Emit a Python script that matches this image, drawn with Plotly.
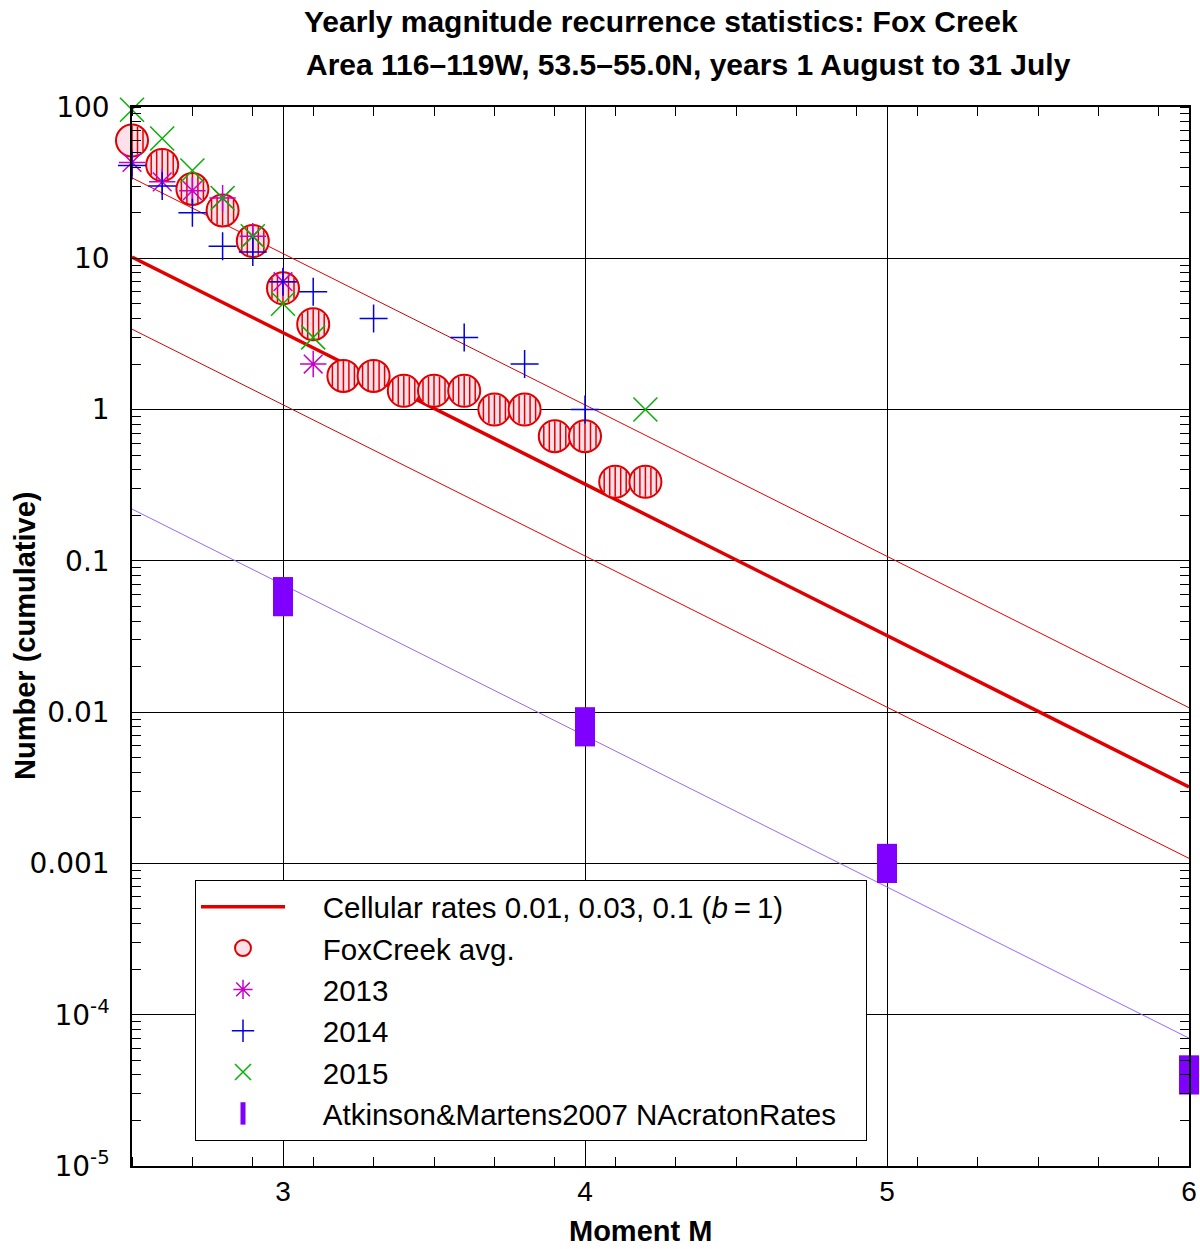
import plotly.graph_objects as go

# ---------------- data ----------------
mag_avg = [2.5, 2.6, 2.7, 2.8, 2.9, 3.0, 3.1, 3.2, 3.3, 3.4, 3.5, 3.6, 3.7, 3.8, 3.9, 4.0, 4.1, 4.2]
n_avg = [60, 41.3, 28.7, 20.7, 13, 6.33, 3.67, 1.67, 1.67, 1.33, 1.33, 1.33, 1.0, 1.0, 0.667, 0.667, 0.333, 0.333]

mag_2013 = [2.5, 2.6, 2.7, 2.8, 2.9, 3.0, 3.1]
n_2013 = [43, 32, 28, 25, 14, 7, 2]

mag_2014 = [2.5, 2.6, 2.7, 2.8, 2.9, 3.0, 3.1, 3.3, 3.6, 3.8, 4.0]
n_2014 = [41, 30, 20, 12, 11, 7, 6, 4, 3, 2, 1]

mag_2015 = [2.5, 2.6, 2.7, 2.8, 2.9, 3.0, 3.1, 4.2]
n_2015 = [96, 62, 38, 25, 14, 5, 3, 1]

mag_am = [3, 4, 5, 6]
n_am = [0.058, 0.008, 0.001, 0.00004]

line_m = [2.5, 6.0]
cell_01 = [34, 0.0107]     # rate 0.1
cell_003 = [10.2, 0.0032]  # rate 0.03
cell_001 = [3.4, 0.00108]  # rate 0.01
am_line = [0.22, 0.00007]

ytick_vals = [1e-5, 1e-4, 1e-3, 1e-2, 1e-1, 1, 10, 100]
ytick_text = ["10<sup>-5</sup>", "10<sup>-4</sup>", "0.001", "0.01", "0.1", "1", "10", "100"]
xtick_vals = [3, 4, 5, 6]

# ---------------- styling ----------------
RED = "#e00000"
PINK = "#fde0ea"
MAG = "#c800c8"
BLUE = "#0000e0"
GREEN = "#00b400"
PURPLE = "#7f00ff"
PURPLE_LINE = "#9966ff"

W, H = 1200, 1249
ML, MR, MT, MB = 132, 11, 107, 83
XR = [2.5, 6.0]
PW = W - ML - MR
PH = H - MT - MB
px_per_unit = PW / (XR[1] - XR[0])
SP = "\u00a0" * 4
TRAIL = "\u00a0" * 3


def px_x(p):
    return (p - ML) / PW


def px_y(p):
    return (H - MB - p) / PH


fig = go.Figure()

# cellular rate lines
fig.add_trace(go.Scatter(x=line_m, y=cell_01, mode="lines", line=dict(color=RED, width=1),
                         showlegend=False, hoverinfo="skip"))
fig.add_trace(go.Scatter(x=line_m, y=cell_001, mode="lines", line=dict(color=RED, width=1),
                         showlegend=False, hoverinfo="skip"))
fig.add_trace(go.Scatter(x=line_m, y=cell_003, mode="lines", line=dict(color=RED, width=3.5),
                         name=SP + "Cellular rates 0.01, 0.03, 0.1 (<i>b</i>\u2009=\u20091)",
                         legendrank=1))

# Atkinson & Martens line + markers
fig.add_trace(go.Scatter(x=line_m, y=am_line, mode="lines", line=dict(color=PURPLE_LINE, width=1),
                         showlegend=False, hoverinfo="skip"))
fig.add_trace(go.Scatter(x=mag_am, y=n_am, mode="markers", cliponaxis=False,
                         marker=dict(symbol="line-ns", size=28, color=PURPLE,
                                     line=dict(color=PURPLE, width=20)),
                         name=SP + "Atkinson&Martens2007 NAcratonRates" + TRAIL, legendrank=6))

# FoxCreek average: hatched circles
fig.add_trace(go.Scatter(x=mag_avg, y=n_avg, mode="markers", cliponaxis=False,
                         marker=dict(symbol="circle", size=32, color=PINK,
                                     line=dict(color=RED, width=2)),
                         name=SP + "FoxCreek avg.", legendrank=2))
hatch_off = [-11, -5.5, 0, 5.5, 11]
hatch_half = [10.5, 14, 15, 14, 10.5]
for off, half in zip(hatch_off, hatch_half):
    fig.add_trace(go.Scatter(x=[m + off / px_per_unit for m in mag_avg], y=n_avg, mode="markers",
                             cliponaxis=True, showlegend=False, hoverinfo="skip",
                             marker=dict(symbol="line-ns", size=half / 0.7, color=RED,
                                         line=dict(color=RED, width=1.5))))

# yearly data
fig.add_trace(go.Scatter(x=mag_2013, y=n_2013, mode="markers", cliponaxis=False,
                         marker=dict(symbol="asterisk-open", size=22, color=MAG,
                                     line=dict(color=MAG, width=1.5)),
                         name=SP + "2013", legendrank=3))
fig.add_trace(go.Scatter(x=mag_2014, y=n_2014, mode="markers", cliponaxis=False,
                         marker=dict(symbol="cross-thin-open", size=20, color=BLUE,
                                     line=dict(color=BLUE, width=1.5)),
                         name=SP + "2014", legendrank=4))
fig.add_trace(go.Scatter(x=mag_2015, y=n_2015, mode="markers", cliponaxis=False,
                         marker=dict(symbol="x-thin-open", size=24, color=GREEN,
                                     line=dict(color=GREEN, width=1.5)),
                         name=SP + "2015", legendrank=5))

TITLE_FONT = "Liberation Sans Narrow, Arial Narrow, Liberation Sans, Arial, sans-serif"
BASE_FONT = "Liberation Sans, Arial, sans-serif"

fig.update_layout(
    width=W, height=H,
    margin=dict(l=ML, r=MR, t=MT, b=MB, autoexpand=False),
    plot_bgcolor="white", paper_bgcolor="white",
    font=dict(family=BASE_FONT, color="black", size=26),
    showlegend=True,
    legend=dict(x=px_x(195), y=px_y(880),
                xanchor="left", yanchor="top", bgcolor="white", bordercolor="black",
                borderwidth=1, font=dict(size=29.5, family=BASE_FONT),
                itemwidth=84, traceorder="normal"),
    xaxis=dict(range=XR, tickvals=xtick_vals, showgrid=True, gridcolor="black", gridwidth=1,
               showline=True, linecolor="black", linewidth=1.5, mirror="allticks",
               ticks="", tickfont=dict(size=28, family=BASE_FONT), ticklabelstandoff=0,
               zeroline=False,
               minor=dict(dtick=0.2, tick0=2.5, ticks="inside", ticklen=9, tickcolor="black",
                          showgrid=False)),
    yaxis=dict(type="log", range=[-5, 2], tickvals=ytick_vals, ticktext=ytick_text,
               showgrid=True, gridcolor="black", gridwidth=1,
               showline=True, linecolor="black", linewidth=1.5, mirror="allticks",
               ticks="", tickfont=dict(size=28, family="DejaVu Sans, Verdana, sans-serif"),
               ticklabelstandoff=15,
               zeroline=False,
               minor=dict(dtick="D1", ticks="inside", ticklen=9, tickcolor="black", showgrid=False)),
    annotations=[
        dict(text="<b>Yearly magnitude recurrence statistics: Fox Creek</b>", xref="paper", yref="paper",
             x=px_x(661), y=px_y(22), xanchor="center", yanchor="middle",
             showarrow=False, font=dict(size=30, family=TITLE_FONT)),
        dict(text="<b>Area 116\u2013119W, 53.5\u201355.0N, years 1 August to 31 July</b>", xref="paper",
             yref="paper", x=px_x(688), y=px_y(65),
             xanchor="center", yanchor="middle", showarrow=False, font=dict(size=30, family=TITLE_FONT)),
        dict(text="<b>Moment M</b>", xref="paper", yref="paper",
             x=px_x(640), y=px_y(1231),
             xanchor="center", yanchor="middle", showarrow=False, font=dict(size=29, family=TITLE_FONT)),
        dict(text="<b>Number (cumulative)</b>", xref="paper", yref="paper", textangle=-90,
             x=px_x(25), y=px_y(636),
             xanchor="center", yanchor="middle", showarrow=False, font=dict(size=29, family=TITLE_FONT)),
    ],
)

fig.write_html("out.html", config={"displayModeBar": False},
               post_script="document.body.style.margin='0';document.body.style.overflow='hidden';")
